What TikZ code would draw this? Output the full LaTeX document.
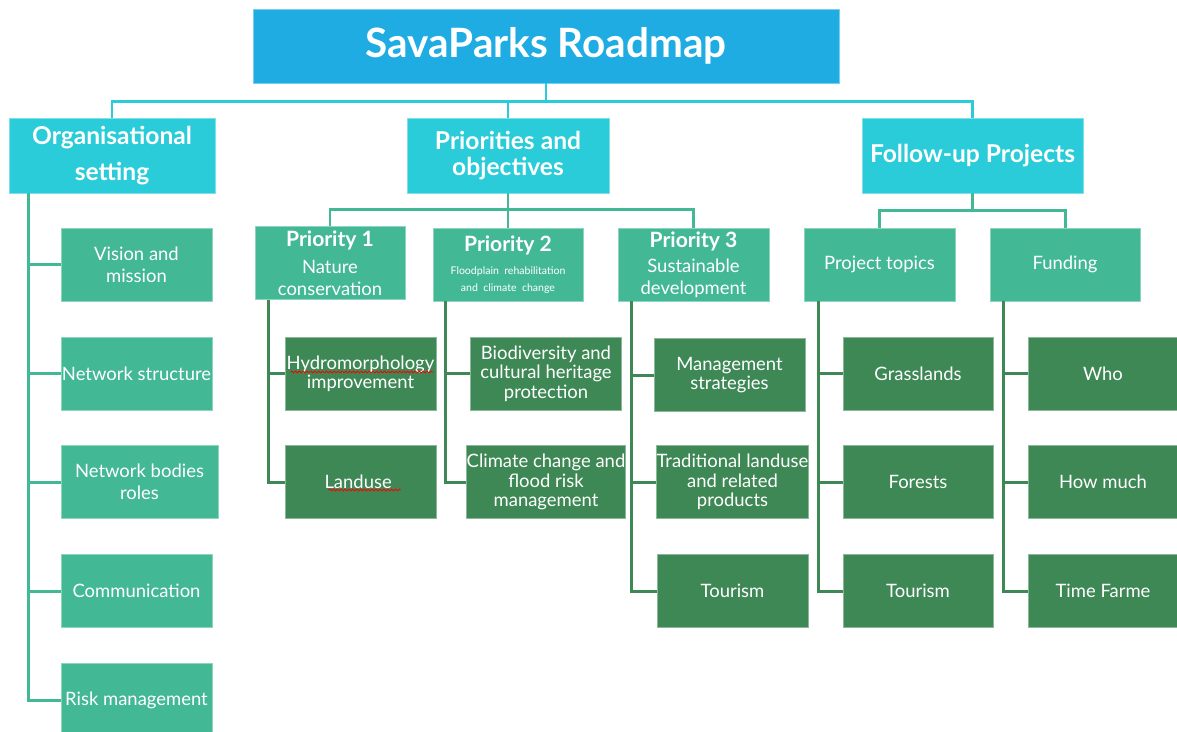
\documentclass[tikz,border=0pt]{standalone}
\usepackage{fontspec}
\setmainfont{Lato}
\usetikzlibrary{calc}
\usetikzlibrary{decorations.pathmorphing}

\definecolor{titleblue}{HTML}{1FACE3}
\definecolor{headcyan}{HTML}{29CCD8}
\definecolor{midgreen}{HTML}{43B895}
\definecolor{leafgreen}{HTML}{3E8855}

\tikzset{
    titlebox/.style={rectangle, fill=titleblue, draw=titleblue!60!white, line width=0.4pt,
        text=white, inner sep=0pt, minimum width=11.72cm, minimum height=1.48cm,
        font=\bfseries\fontsize{23}{27}\selectfont},
    headbox/.style={rectangle, fill=headcyan, draw=headcyan!60!white, line width=0.4pt,
        text=white, inner sep=0pt, align=center, minimum height=1.5cm,
        font=\bfseries\fontsize{14}{15}\selectfont},
    midbox/.style={rectangle, fill=midgreen, draw=midgreen!60!white, line width=0.4pt,
        text=white, inner sep=0pt, align=center, minimum width=3.02cm, minimum height=1.46cm,
        font=\fontsize{10.5}{12.5}\selectfont},
    leafbox/.style={midbox, fill=leafgreen, draw=leafgreen!60!white,
        font=\fontsize{10.5}{11}\selectfont},
    cyanline/.style={draw=headcyan, line width=1.7pt},
    midline/.style={draw=midgreen, line width=1.7pt},
    darkline/.style={draw=leafgreen, line width=1.7pt},
    squiggle/.style={draw=red, line width=0.5pt, decorate,
        decoration={snake, amplitude=0.5pt, segment length=2.2pt}}
}

\begin{document}
\begin{tikzpicture}[x=0.02cm, y=-0.02cm]
    \path[use as bounding box] (0,0) rectangle (1177,731);
    \clip (0,0) rectangle (1177,731);

    % top and first level
    \node[titlebox] (title) at (546,46) {SavaParks Roadmap};
    \node[headbox, minimum width=4.12cm] (org) at (112,155.5) {Organisational\\[5pt]setting};
    \node[headbox, minimum width=4.04cm] (prio) at (508,155.5) {Priorities and\\objectives};
    \node[headbox, minimum width=4.42cm] (follow) at (972.5,155.5) {Follow-up Projects};

    \coordinate (busA) at ($(title.south)+(0,18)$);
    \draw[cyanline] (title.south) -- (busA);
    \draw[cyanline] (org.north) |- (busA) -| (follow.north);
    \draw[cyanline] (prio.north) -- (prio.north |- busA);

    % second level
    \node[midbox, minimum width=3cm] (p1) at (330,263)
        {{\bfseries\fontsize{12}{14}\selectfont Priority 1}\\[3pt]Nature\\conservation};
    \node[midbox, minimum width=3cm] (p2) at (508,264.5)
        {{\bfseries\fontsize{12}{14}\selectfont Priority 2}\\[1pt]
         {\fontsize{6}{7}\selectfont Floodplain\ \ rehabilitation}\\[-3pt]
         {\fontsize{6}{7}\selectfont and\ \ climate\ \ change}};
    \node[midbox] (p3) at (693.5,264.5)
        {{\bfseries\fontsize{12}{14}\selectfont Priority 3}\\[2pt]Sustainable\\development};
    \node[midbox] (topics) at (879.5,264.5) {Project topics};
    \node[midbox, minimum width=3cm] (fund) at (1065,264.5) {Funding};

    \coordinate (busB) at ($(prio.south)+(0,16)$);
    \draw[midline] (prio.south) -- (busB);
    \draw[midline] (p1.north) |- (busB) -| (p3.north);
    \draw[midline] (p2.north) -- (p2.north |- busB);

    \coordinate (busC) at ($(follow.south)+(0,17)$);
    \draw[midline] (follow.south) -- (busC);
    \draw[midline] (topics.north) |- (busC) -| (fund.north);

    % organisational setting
    \node[midbox] (vision) at (136.5,264.5) {Vision and\\mission};
    \node[midbox] (netstruct) at (136.5,373.5) {Network structure};
    \node[midbox, minimum width=3.14cm] (netbodies) at (139.5,482) {Network bodies\\roles};
    \node[midbox] (comm) at (136.5,591) {Communication};
    \node[midbox] (risk) at (136.5,700) {Risk management};

    \coordinate (orgtop) at ($(org.south west)+(20,0)$);
    \draw[midline] (orgtop) |- (risk.west);
    \draw[midline] (orgtop |- vision.west) -- (vision.west);
    \draw[midline] (orgtop |- netstruct.west) -- (netstruct.west);
    \draw[midline] (orgtop |- netbodies.west) -- (netbodies.west);
    \draw[midline] (orgtop |- comm.west) -- (comm.west);

    % priority 1
    \node[leafbox] (hydro) at (360.5,373.5) {Hydromorphology\\improvement};
    \node[leafbox] (landuse) at (360.5,482) {Landuse };
    \draw[squiggle] ($(hydro.center)+(-70,-1.5)$) -- +(143,0);
    \draw[squiggle] ($(landuse.center)+(-32,8)$) -- +(72,0);

    \coordinate (p1top) at ($(p1.south west)+(14,0)$);
    \draw[darkline] (p1top) |- (landuse.west);
    \draw[darkline] (p1top |- hydro.west) -- (hydro.west);

    % priority 2
    \node[leafbox] (biodiv) at (546,373.5) {Biodiversity and\\cultural heritage\\protection};
    \node[leafbox] (climate) at (546,482) {Climate change and\\flood risk\\management};

    \coordinate (p2top) at ($(p2.south west)+(13,0)$);
    \draw[darkline] (p2top) |- (climate.west);
    \draw[darkline] (p2top |- biodiv.west) -- (biodiv.west);

    % priority 3
    \node[leafbox] (mgmt) at (729.5,375) {Management\\strategies};
    \node[leafbox] (trad) at (732.5,482) {Traditional landuse\\and related\\products};
    \node[leafbox] (tourA) at (732.5,591) {Tourism};

    \coordinate (p3top) at ($(p3.south west)+(14,0)$);
    \draw[darkline] (p3top) |- (tourA.west);
    \draw[darkline] (p3top |- mgmt.west) -- (mgmt.west);
    \draw[darkline] (p3top |- trad.west) -- (trad.west);

    % project topics
    \node[leafbox, minimum width=3cm] (grass) at (918,373.5) {Grasslands};
    \node[leafbox, minimum width=3cm] (forest) at (918,482) {Forests};
    \node[leafbox, minimum width=3cm] (tourB) at (918,591) {Tourism};

    \coordinate (pttop) at ($(topics.south west)+(15,0)$);
    \draw[darkline] (pttop) |- (tourB.west);
    \draw[darkline] (pttop |- grass.west) -- (grass.west);
    \draw[darkline] (pttop |- forest.west) -- (forest.west);

    % funding
    \node[leafbox, minimum width=3cm] (who) at (1103,373.5) {Who};
    \node[leafbox, minimum width=3cm] (howmuch) at (1103,482) {How much};
    \node[leafbox, minimum width=3cm] (timeframe) at (1103,591) {Time Farme};

    \coordinate (fundtop) at ($(fund.south west)+(14,0)$);
    \draw[darkline] (fundtop) |- (timeframe.west);
    \draw[darkline] (fundtop |- who.west) -- (who.west);
    \draw[darkline] (fundtop |- howmuch.west) -- (howmuch.west);
\end{tikzpicture}
\end{document}
